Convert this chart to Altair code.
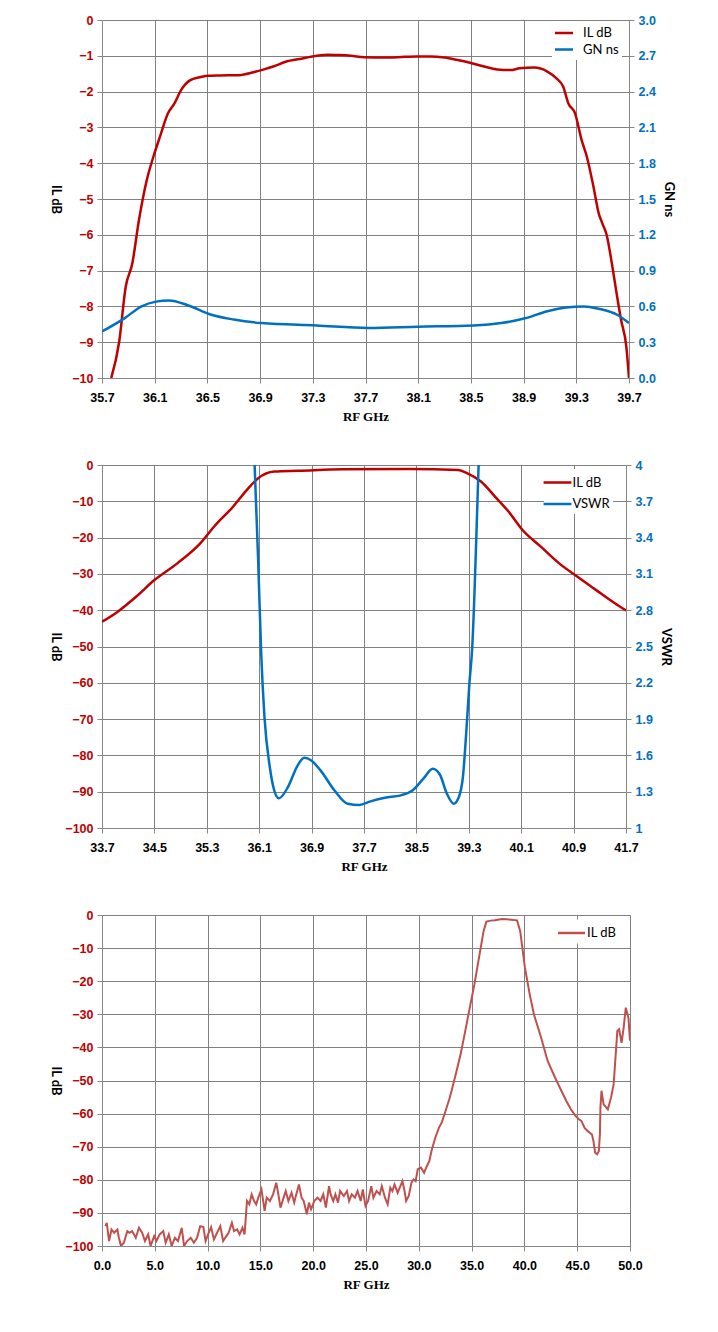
import altair as alt
import pandas as pd

RED = "#C00000"
BLUE = "#0070C0"
RED3 = "#C0504D"
GRID = "#808080"

# ---------- Chart 1 : IL dB and GN ns ----------
c1_il_freq = [35.77, 35.83, 35.88, 35.93, 35.98, 36.04, 36.09, 36.14, 36.2, 36.25, 36.3, 36.37,
              36.44, 36.5, 36.6, 36.74, 36.85, 36.93, 37.0, 37.1, 37.2, 37.28, 37.41, 37.5, 37.59,
              37.69, 37.84, 38.0, 38.09, 38.19, 38.3, 38.39, 38.5, 38.6, 38.7, 38.8, 38.87, 38.98,
              39.08, 39.15, 39.2, 39.24, 39.29, 39.34, 39.38, 39.43, 39.47, 39.5, 39.53, 39.57,
              39.61, 39.64, 39.68, 39.7]
c1_il = [-10.0, -9.0, -7.45, -6.8, -5.6, -4.47, -3.82, -3.26, -2.61, -2.33, -1.96, -1.68,
         -1.6, -1.56, -1.55, -1.54, -1.46, -1.38, -1.3, -1.16, -1.09, -1.03, -0.97, -0.98, -1.0,
         -1.04, -1.05, -1.03, -1.02, -1.02, -1.05, -1.11, -1.2, -1.3, -1.38, -1.4, -1.35, -1.33,
         -1.44, -1.63, -1.86, -2.33, -2.6, -3.35, -3.82, -4.65, -5.4, -5.7, -6.0, -6.8,
         -7.73, -8.38, -9.13, -10.0]
c1_gn_freq = [35.7, 35.87, 36.0, 36.11, 36.21, 36.35, 36.53, 36.7, 36.91, 37.33, 37.72, 38.1,
              38.52, 38.73, 38.91, 39.08, 39.22, 39.36, 39.47, 39.61, 39.7]
c1_gn = [0.39, 0.50, 0.60, 0.64, 0.65, 0.61, 0.53, 0.49, 0.46, 0.44, 0.42, 0.43,
         0.44, 0.46, 0.50, 0.56, 0.59, 0.60, 0.58, 0.53, 0.46]

# ---------- Chart 2 : IL dB and VSWR ----------
c2_il_freq = [33.7, 33.94, 34.22, 34.5, 34.85, 35.2, 35.41, 35.7, 35.91, 36.08, 36.33, 36.7,
              37.38, 38.4, 39.14, 39.28, 39.49, 39.7, 39.91, 40.12, 40.4, 40.68, 40.96, 41.24,
              41.53, 41.7]
c2_il = [-43.2, -40.4, -36.3, -31.7, -27.1, -21.6, -17.0, -11.5, -6.9, -3.7, -1.8, -1.6,
         -1.2, -1.1, -1.4, -2.3, -4.6, -8.7, -12.9, -17.9, -22.5, -27.1, -30.8, -34.4,
         -38.1, -40.1]
c2_vswr_freq = [35.97, 36.03, 36.085, 36.13, 36.18, 36.26, 36.33, 36.4, 36.54, 36.68, 36.79,
                36.89, 37.03, 37.25, 37.45, 37.63, 37.8, 38.02, 38.26, 38.44, 38.61, 38.75,
                38.86, 38.96, 39.07, 39.14, 39.21, 39.26, 39.31, 39.35, 39.45, 39.51]
c2_vswr = [5.0, 4.0, 3.2, 2.45, 1.92, 1.51, 1.31, 1.245, 1.34, 1.51, 1.58,
           1.56, 1.48, 1.31, 1.20, 1.19, 1.22, 1.25, 1.27, 1.31, 1.41, 1.49,
           1.44, 1.29, 1.20, 1.245, 1.42, 1.78, 2.2, 2.47, 4.0, 5.0]

# ---------- Chart 3 : wideband IL dB ----------
c3_freq = [0.33, 0.45, 0.67, 0.9, 1.15, 1.46, 1.6, 1.8, 2.07, 2.4, 2.6, 2.85, 3.2, 3.5, 3.8,
           4.07, 4.37, 4.6, 4.94, 5.16, 5.46, 5.8, 6.03, 6.33, 6.6, 6.9, 7.2, 7.55, 7.77, 8.07,
           8.4, 8.7, 9.0, 9.3, 9.6, 9.81, 10.1, 10.33, 10.6, 10.9, 11.2, 11.47, 11.77, 11.99,
           12.3, 12.5, 12.8, 13.03, 13.3, 13.5, 13.73, 13.95, 14.17, 14.4, 14.6, 14.8, 15.1,
           15.4, 15.6, 15.9, 16.2, 16.5, 16.7, 16.9, 17.2, 17.4, 17.65, 17.95, 18.2, 18.4,
           18.65, 18.9, 19.1, 19.4, 19.6, 19.8, 20.1, 20.4, 20.7, 20.95, 21.2, 21.5, 21.65,
           21.9, 22.1, 22.35, 22.55, 22.9, 23.2, 23.4, 23.65, 23.95, 24.2, 24.5, 24.7, 24.95,
           25.2, 25.5, 25.7, 26.0, 26.3, 26.5, 26.8, 27.05, 27.3, 27.5, 27.7, 28.0, 28.2,
           28.45, 28.65, 28.8, 29.05, 29.3, 29.5, 29.7, 29.9, 30.2, 30.5, 30.7, 31.0, 31.2,
           31.56, 31.9, 32.2, 32.5, 32.9, 33.1, 33.5, 33.96, 34.4, 34.83, 35.27, 35.7, 36.14,
           36.4, 36.8, 37.2, 37.9, 38.75, 39.3, 39.6, 40.05, 40.5, 40.9, 41.58, 42.2, 42.9,
           43.5, 43.97, 44.4, 44.84, 45.15, 45.4, 45.7, 46.0, 46.4, 46.54, 46.7, 46.9, 47.05,
           47.15, 47.2, 47.3, 47.5, 47.9, 48.2, 48.45, 48.8, 48.97, 49.2, 49.4, 49.6, 49.85,
           50.0]
c3_il = [-94.0, -93.0, -98.5, -95.0, -96.0, -95.0, -97.5, -100.0, -99.0, -95.5, -96.0, -95.5,
         -97.5, -94.5, -96.0, -98.5, -96.5, -100.0, -97.0, -98.5, -96.5, -95.5, -99.0, -96.5,
         -100.0, -97.5, -98.5, -94.5, -100.0, -98.5, -97.5, -99.0, -97.5, -94.0, -94.3, -98.5,
         -96.0, -94.3, -98.0, -96.0, -94.0, -98.5, -97.0, -96.0, -93.0, -95.5, -95.0, -96.5,
         -94.5, -96.5, -86.4, -87.4, -84.4, -86.4, -87.4, -85.4, -82.9, -89.4, -85.4, -86.4,
         -84.4, -80.9, -84.4, -88.4, -85.4, -83.4, -86.4, -83.9, -86.9, -84.4, -81.4, -85.4,
         -86.4, -90.4, -86.9, -88.9, -86.4, -85.4, -86.4, -84.4, -88.4, -81.9, -84.4, -86.4,
         -84.4, -86.9, -83.4, -84.9, -83.4, -86.4, -84.4, -85.4, -83.4, -86.4, -82.9, -87.9,
         -86.4, -81.9, -85.4, -83.4, -84.4, -81.9, -85.4, -87.4, -82.4, -83.4, -81.4, -83.9,
         -82.4, -80.4, -83.4, -86.4, -84.9, -80.9, -79.9, -80.4, -76.8, -76.3, -77.9, -76.3,
         -74.3, -71.3, -67.3, -64.3, -62.5, -59.5, -55.5, -53.2, -48.1, -42.1, -35.0, -28.0,
         -20.9, -12.9, -4.8, -2.0, -1.7, -1.6, -1.2, -1.4, -1.6, -4.8, -15.9, -23.9, -30.0,
         -37.0, -44.1, -49.1, -53.1, -56.2, -58.7, -60.7, -61.7, -62.2, -64.3, -65.3, -66.3,
         -68.3, -71.8, -72.3, -71.3, -66.3, -58.2, -53.1, -57.2, -58.7, -55.2, -51.2, -35.0,
         -34.5, -38.6, -34.0, -28.0, -31.0, -38.0]

c1_xticks = [35.7, 36.1, 36.5, 36.9, 37.3, 37.7, 38.1, 38.5, 38.9, 39.3, 39.7]
c1_yticks = [0, -1, -2, -3, -4, -5, -6, -7, -8, -9, -10]
c1_y2ticks = [0.0, 0.3, 0.6, 0.9, 1.2, 1.5, 1.8, 2.1, 2.4, 2.7, 3.0]
c2_xticks = [33.7, 34.5, 35.3, 36.1, 36.9, 37.7, 38.5, 39.3, 40.1, 40.9, 41.7]
c2_yticks = [0, -10, -20, -30, -40, -50, -60, -70, -80, -90, -100]
c2_y2ticks = [1.0, 1.3, 1.6, 1.9, 2.2, 2.5, 2.8, 3.1, 3.4, 3.7, 4.0]
c3_xticks = [0, 5, 10, 15, 20, 25, 30, 35, 40, 45, 50]
c3_yticks = [0, -10, -20, -30, -40, -50, -60, -70, -80, -90, -100]

TITLE_X = -47
TICK_FONT = "Liberation Sans"
TEXT_FONT = "Lato"
LEG_PATH2 = "M-1.55,0H1.55"
LEG_PATH1 = "M-1.2,0H1.2"
LABEL_SIZE = 12.5


def x_axis(ticks):
    return alt.Axis(values=ticks, format=".1f", title="RF GHz", labelColor="black",
                    labelFont=TICK_FONT, labelFontSize=LABEL_SIZE, labelFontWeight="bold",
                    titleFont="Liberation Serif", titleFontWeight="bold", titleFontSize=13,
                    titleColor="black", labelPadding=8, titlePadding=7, labelFlush=False,
                    gridColor=GRID, gridOpacity=1)


def left_axis(ticks, h):
    return alt.Axis(values=ticks, format="d", title="IL dB", labelColor=RED,
                    labelFont=TICK_FONT, labelFontSize=LABEL_SIZE, labelFontWeight="bold",
                    titleAngle=90, titleX=TITLE_X, titleY=h / 2, titleAlign="center",
                    titleBaseline="middle", titleFont=TEXT_FONT, titleFontWeight="bold",
                    titleFontSize=13, titleColor="black", labelPadding=4, gridColor=GRID,
                    gridOpacity=1)


def right_axis(ticks, title, fmt, h):
    return alt.Axis(values=ticks, format=fmt, title=title, orient="right", labelColor=BLUE,
                    labelFont=TICK_FONT, labelFontSize=LABEL_SIZE, labelFontWeight="bold",
                    grid=False, titleAngle=90, titleX=39, titleY=h / 2, titleAlign="center",
                    titleBaseline="middle", titleFont=TEXT_FONT, titleFontWeight="bold",
                    titleFontSize=13, titleColor="black", labelPadding=4)


def legend(x, y, size, path, offset, row_pad):
    return alt.Legend(orient="none", legendX=x, legendY=y, title=None, symbolType=path,
                      symbolSize=size, symbolStrokeWidth=2.5, labelFont=TEXT_FONT,
                      labelFontSize=13, labelFontWeight="normal", labelColor="black",
                      fillColor="white", padding=3, labelOffset=offset, rowPadding=row_pad)


# chart 1
W1, H1 = 527, 358
df1a = pd.DataFrame({"freq": c1_il_freq, "val": c1_il, "series": "IL dB"})
df1b = pd.DataFrame({"freq": c1_gn_freq, "val": c1_gn, "series": "GN ns"})
col1 = alt.Color("series:N", scale=alt.Scale(domain=["IL dB", "GN ns"], range=[RED, BLUE]),
                 legend=legend(450, 1, 225, LEG_PATH1, 10, 0.5))
x1 = alt.X("freq:Q", scale=alt.Scale(domain=[35.7, 39.7], nice=False, zero=False),
           axis=x_axis(c1_xticks))
l1a = alt.Chart(df1a).mark_line(strokeWidth=2.5, interpolate="monotone", clip=True).encode(
    x=x1, y=alt.Y("val:Q", scale=alt.Scale(domain=[-10, 0], nice=False),
                  axis=left_axis(c1_yticks, H1)), color=col1)
l1b = alt.Chart(df1b).mark_line(strokeWidth=2.5, interpolate="monotone", clip=True).encode(
    x=x1, y=alt.Y("val:Q", scale=alt.Scale(domain=[0, 3], nice=False, zero=False),
                  axis=right_axis(c1_y2ticks, "GN ns", ".1f", H1)), color=col1)
chart1 = alt.layer(l1a, l1b).resolve_scale(y="independent").properties(width=W1, height=H1)

# chart 2
W2, H2 = 524, 363
df2a = pd.DataFrame({"freq": c2_il_freq, "val": c2_il, "series": "IL dB"})
df2b = pd.DataFrame({"freq": c2_vswr_freq, "val": c2_vswr, "series": "VSWR"})
col2 = alt.Color("series:N", scale=alt.Scale(domain=["IL dB", "VSWR"], range=[RED, BLUE]),
                 legend=legend(442, 4, 324, LEG_PATH2, 4.5, 3.5))
x2 = alt.X("freq:Q", scale=alt.Scale(domain=[33.7, 41.7], nice=False, zero=False),
           axis=x_axis(c2_xticks))
l2a = alt.Chart(df2a).mark_line(strokeWidth=2.5, interpolate="monotone", clip=True).encode(
    x=x2, y=alt.Y("val:Q", scale=alt.Scale(domain=[-100, 0], nice=False),
                  axis=left_axis(c2_yticks, H2)), color=col2)
l2b = alt.Chart(df2b).mark_line(strokeWidth=2.5, interpolate="monotone", clip=True).encode(
    x=x2, y=alt.Y("val:Q", scale=alt.Scale(domain=[1, 4], nice=False, zero=False),
                  axis=right_axis(c2_y2ticks, "VSWR", "~g", H2)), color=col2)
chart2 = alt.layer(l2a, l2b).resolve_scale(y="independent").properties(width=W2, height=H2)

# chart 3
W3, H3 = 528, 331
df3 = pd.DataFrame({"freq": c3_freq, "val": c3_il, "series": "IL dB"})
col3 = alt.Color("series:N", scale=alt.Scale(domain=["IL dB"], range=[RED3]),
                 legend=legend(456, 4.5, 324, "M-1.5,0H1.5", 5, 0))
chart3 = alt.Chart(df3).mark_line(strokeWidth=2, clip=True).encode(
    x=alt.X("freq:Q", scale=alt.Scale(domain=[0, 50], nice=False, zero=False),
            axis=x_axis(c3_xticks)),
    y=alt.Y("val:Q", scale=alt.Scale(domain=[-100, 0], nice=False),
            axis=left_axis(c3_yticks, H3)),
    color=col3,
).properties(width=W3, height=H3)

chart = alt.vconcat(chart1, chart2, chart3, spacing=34).resolve_scale(
    color="independent").resolve_legend(color="independent").properties(
    padding={"left": 39, "top": 5, "right": 5, "bottom": 5}
).configure_view(stroke=None).configure_axis(
    labelFont=TICK_FONT, labelFontSize=LABEL_SIZE, labelFontWeight="bold",
    gridColor=GRID, domainColor=GRID, tickColor=GRID, tickSize=5,
    gridWidth=1, domainWidth=1, tickWidth=1, gridOpacity=1,
).configure(background="white")

chart.save("out.html", embed_options={"renderer": "svg", "actions": False})
